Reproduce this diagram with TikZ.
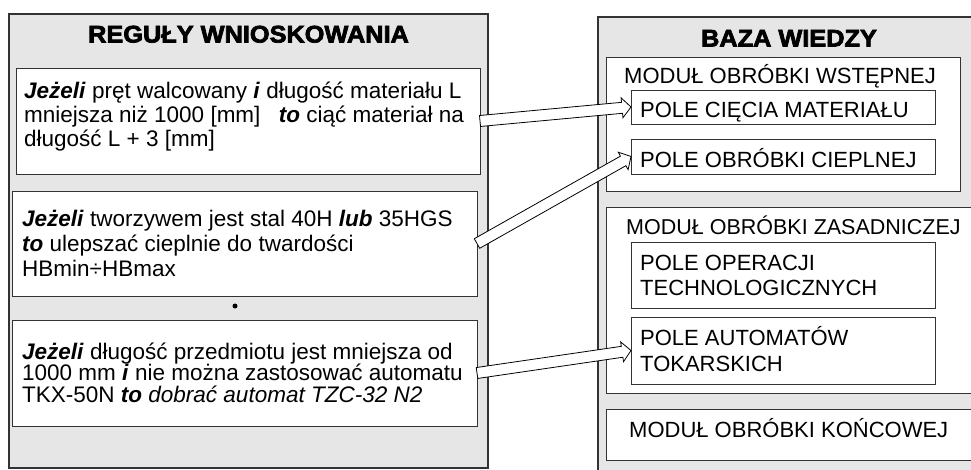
\documentclass[tikz,border=0pt]{standalone}
\usepackage{fontspec}
\setmainfont{Liberation Sans}
\newfontfamily\heavyfont{Liberation Sans Bold}[FakeBold=3,FakeStretch=1.055]
\usetikzlibrary{calc}
\definecolor{panelgray}{HTML}{E6E6E6}
\definecolor{edge}{HTML}{333333}
\newcommand\bi[1]{\textbf{\textit{#1}}}
\newcommand\mkbox[6]{\node[#6, anchor=north west, minimum width={(#4-#2)*1pt}, minimum height={(#5-#3)*1pt}] (#1) at (#2,#3) {};}
\newcommand\hollowarrow[2]{%
  \coordinate (ha-s) at (#1);
  \coordinate (ha-e) at (#2);
  \coordinate (ha-b) at ($(ha-e)!9pt!(ha-s)$);
  \draw[arrowline] ($(ha-s)!5.5pt!90:(ha-e)$) -- ($(ha-b)!5.5pt!90:(ha-e)$)
     -- ($(ha-b)!10pt!90:(ha-e)$) -- (ha-e) -- ($(ha-b)!10pt!-90:(ha-e)$)
     -- ($(ha-b)!5.5pt!-90:(ha-e)$) -- ($(ha-s)!5.5pt!-90:(ha-e)$) -- cycle;
}
\begin{document}
\begin{tikzpicture}[x=1pt,y=-1pt,
  panel/.style={draw=edge, line width=1.3pt, fill=panelgray, inner sep=0pt, outer sep=0pt},
  box/.style={draw=edge, line width=0.9pt, fill=white, inner sep=0pt, outer sep=0pt},
  txt/.style={anchor=base west, inner sep=0pt, font=\fontsize{22.5}{25}\selectfont},
  rtxt/.style={anchor=base west, inner sep=0pt, font=\fontsize{22}{25}\selectfont},
  title/.style={anchor=base, inner sep=0pt, font=\heavyfont\fontsize{24}{28}\selectfont},
  arrowline/.style={draw=black, line width=0.8pt, fill=white, line join=miter}]
\useasboundingbox (0,0) rectangle (971,470);
\clip (0,0) rectangle (971,470);

% left panel
\mkbox{left}{9}{14}{488}{468}{panel}
\node[title] (lt) at (248.5,42.5) {REGUŁY WNIOSKOWANIA};
\mkbox{r1}{16}{68}{480}{174}{box}
\mkbox{r2}{12}{191}{477}{296}{box}
\mkbox{r3}{12}{320}{477}{426}{box}
\node[circle, fill=black, inner sep=0pt, minimum size=5pt] (dot) at (235,306) {};

\node[txt] (r1a) at (24,99) {\bi{Jeżeli} pręt walcowany \bi{i} długość materiału L};
\node[txt] (r1b) at (24,123) {mniejsza niż 1000 [mm]\hspace{12pt} \bi{to} ciąć materiał na};
\node[txt] (r1c) at (24,147) {długość L + 3 [mm]};

\node[txt] (r2a) at (22,226.5) {\bi{Jeżeli} tworzywem jest stal 40H \bi{lub} 35HGS};
\node[txt] (r2b) at (22,251.5) {\bi{to} ulepszać cieplnie do twardości};
\node[txt] (r2c) at (22,276.5) {HBmin÷HBmax};

\node[txt] (r3a) at (22,359) {\bi{Jeżeli} długość przedmiotu jest mniejsza od};
\node[txt] (r3b) at (22,380.5) {1000 mm \bi{i} nie można zastosować automatu};
\node[txt] (r3c) at (22,402) {TKX-50N \bi{to} \textit{dobrać automat TZC-32 N2}};

% right panel
\mkbox{right}{598}{17}{1000}{490}{panel}
\node[title] (rt) at (789,46.5) {BAZA WIEDZY};
\mkbox{m1}{606}{57}{960}{191}{box}
\mkbox{m2}{606}{207}{1000}{393}{box}
\mkbox{m3}{606}{409}{1000}{460}{box}
\mkbox{p1}{631}{90}{935}{124}{box}
\mkbox{p2}{631}{139}{935}{174}{box}
\mkbox{p3}{631}{242}{935}{308}{box}
\mkbox{p4}{631}{317}{935}{384}{box}

\node[rtxt] (m1t) at (624,84) {MODUŁ OBRÓBKI WSTĘPNEJ};
\node[rtxt] (p1t) at (640,118) {POLE CIĘCIA MATERIAŁU};
\node[rtxt] (p2t) at (640,168) {POLE OBRÓBKI CIEPLNEJ};
\node[rtxt, font=\fontsize{21.5}{25}\selectfont] (m2t) at (626,235) {MODUŁ OBRÓBKI ZASADNICZEJ};
\node[rtxt] (p3a) at (640,270) {POLE OPERACJI};
\node[rtxt] (p3b) at (640,295) {TECHNOLOGICZNYCH};
\node[rtxt] (p4a) at (640,345) {POLE AUTOMATÓW};
\node[rtxt] (p4b) at (640,371.5) {TOKARSKICH};
\node[rtxt] (m3t) at (629,437) {MODUŁ OBRÓBKI KOŃCOWEJ};

% arrows
\hollowarrow{r1.east}{p1.west}
\hollowarrow{r2.east}{p2.west}
\hollowarrow{r3.east}{p4.west}
\end{tikzpicture}
\end{document}
